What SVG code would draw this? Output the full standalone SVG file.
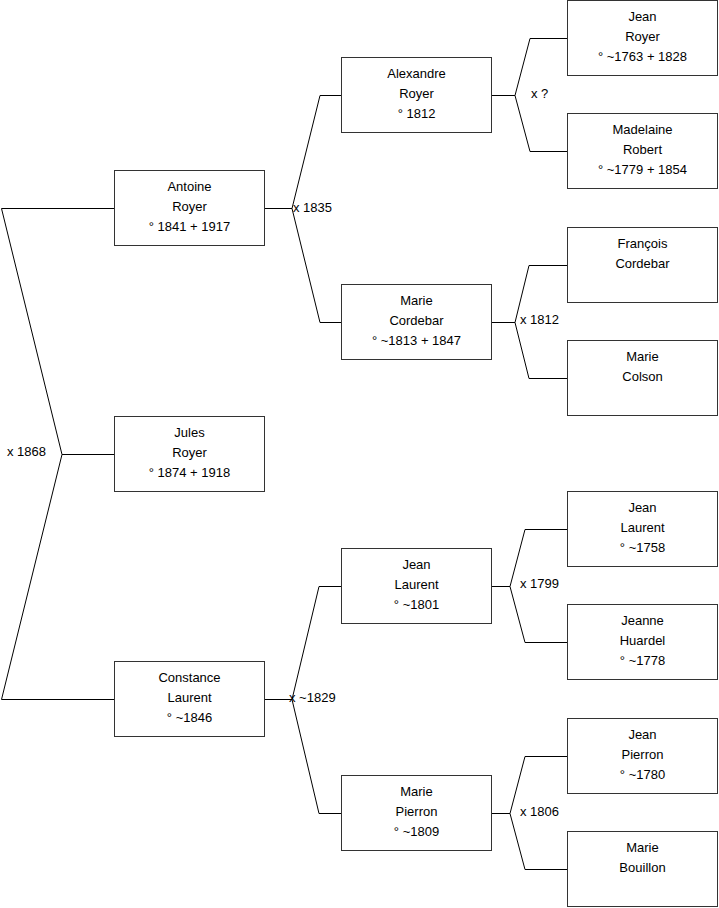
<svg xmlns="http://www.w3.org/2000/svg" width="719" height="908" viewBox="0 0 719 908">
<style>
.box{fill:#fff;stroke:#333;stroke-width:1}
.t{font-family:"Liberation Sans",Arial,sans-serif;font-size:13px;fill:#000;text-anchor:middle}
.lbl{font-family:"Liberation Sans",Arial,sans-serif;font-size:13px;fill:#000}
.c{fill:none;stroke:#000;stroke-width:1}
</style>
<rect width="719" height="908" fill="#fff"/>
<g id="connectors">
<polyline class="c" points="114,208.5 1.5,208.5 62,454.5 1.5,699.5 114,699.5"/>
<line class="c" x1="62" y1="454.5" x2="114" y2="454.5"/>
<line class="c" x1="265" y1="208.5" x2="292" y2="208.5"/>
<polyline class="c" points="341,95.5 320,95.5 292,208.5 320,322.5 341,322.5"/>
<line class="c" x1="265" y1="699.5" x2="292" y2="699.5"/>
<polyline class="c" points="341,586.5 319,586.5 292,699.5 319,813.5 341,813.5"/>
<line class="c" x1="492" y1="95.5" x2="515" y2="95.5"/>
<polyline class="c" points="567,38.5 530,38.5 515,95.5 530,151.5 567,151.5"/>
<line class="c" x1="492" y1="322.5" x2="515" y2="322.5"/>
<polyline class="c" points="567,265.5 529,265.5 515,322.5 529,378.5 567,378.5"/>
<line class="c" x1="492" y1="586.5" x2="510" y2="586.5"/>
<polyline class="c" points="567,529.5 525,529.5 510,586.5 525,642.5 567,642.5"/>
<line class="c" x1="492" y1="813.5" x2="510" y2="813.5"/>
<polyline class="c" points="567,756.5 525,756.5 510,813.5 525,869.5 567,869.5"/>
<text class="lbl" x="7" y="456">x 1868</text>
<text class="lbl" x="293" y="212">x 1835</text>
<text class="lbl" x="289" y="702">x ~1829</text>
<text class="lbl" x="531" y="98">x ?</text>
<text class="lbl" x="520" y="324">x 1812</text>
<text class="lbl" x="520" y="588">x 1799</text>
<text class="lbl" x="520" y="816">x 1806</text>
</g>
<g id="antoine"><rect class="box" x="114.5" y="170.5" width="150" height="75"/><text class="t" x="189.5" y="191">Antoine</text><text class="t" x="189.5" y="211">Royer</text><text class="t" x="189.5" y="231">° 1841 + 1917</text></g>
<g id="jules"><rect class="box" x="114.5" y="416.5" width="150" height="75"/><text class="t" x="189.5" y="437">Jules</text><text class="t" x="189.5" y="457">Royer</text><text class="t" x="189.5" y="477">° 1874 + 1918</text></g>
<g id="constance"><rect class="box" x="114.5" y="661.5" width="150" height="75"/><text class="t" x="189.5" y="682">Constance</text><text class="t" x="189.5" y="702">Laurent</text><text class="t" x="189.5" y="722">° ~1846</text></g>
<g id="alexandre"><rect class="box" x="341.5" y="57.5" width="150" height="75"/><text class="t" x="416.5" y="78">Alexandre</text><text class="t" x="416.5" y="98">Royer</text><text class="t" x="416.5" y="118">° 1812</text></g>
<g id="marie-cordebar"><rect class="box" x="341.5" y="284.5" width="150" height="75"/><text class="t" x="416.5" y="305">Marie</text><text class="t" x="416.5" y="325">Cordebar</text><text class="t" x="416.5" y="345">° ~1813 + 1847</text></g>
<g id="jean-laurent"><rect class="box" x="341.5" y="548.5" width="150" height="75"/><text class="t" x="416.5" y="569">Jean</text><text class="t" x="416.5" y="589">Laurent</text><text class="t" x="416.5" y="609">° ~1801</text></g>
<g id="marie-pierron"><rect class="box" x="341.5" y="775.5" width="150" height="75"/><text class="t" x="416.5" y="796">Marie</text><text class="t" x="416.5" y="816">Pierron</text><text class="t" x="416.5" y="836">° ~1809</text></g>
<g id="jean-royer"><rect class="box" x="567.5" y="0.5" width="150" height="75"/><text class="t" x="642.5" y="21">Jean</text><text class="t" x="642.5" y="41">Royer</text><text class="t" x="642.5" y="61">° ~1763 + 1828</text></g>
<g id="madelaine-robert"><rect class="box" x="567.5" y="113.5" width="150" height="75"/><text class="t" x="642.5" y="134">Madelaine</text><text class="t" x="642.5" y="154">Robert</text><text class="t" x="642.5" y="174">° ~1779 + 1854</text></g>
<g id="francois-cordebar"><rect class="box" x="567.5" y="227.5" width="150" height="75"/><text class="t" x="642.5" y="248">François</text><text class="t" x="642.5" y="268">Cordebar</text></g>
<g id="marie-colson"><rect class="box" x="567.5" y="340.5" width="150" height="75"/><text class="t" x="642.5" y="361">Marie</text><text class="t" x="642.5" y="381">Colson</text></g>
<g id="jean-laurent-sr"><rect class="box" x="567.5" y="491.5" width="150" height="75"/><text class="t" x="642.5" y="512">Jean</text><text class="t" x="642.5" y="532">Laurent</text><text class="t" x="642.5" y="552">° ~1758</text></g>
<g id="jeanne-huardel"><rect class="box" x="567.5" y="604.5" width="150" height="75"/><text class="t" x="642.5" y="625">Jeanne</text><text class="t" x="642.5" y="645">Huardel</text><text class="t" x="642.5" y="665">° ~1778</text></g>
<g id="jean-pierron"><rect class="box" x="567.5" y="718.5" width="150" height="75"/><text class="t" x="642.5" y="739">Jean</text><text class="t" x="642.5" y="759">Pierron</text><text class="t" x="642.5" y="779">° ~1780</text></g>
<g id="marie-bouillon"><rect class="box" x="567.5" y="831.5" width="150" height="75"/><text class="t" x="642.5" y="852">Marie</text><text class="t" x="642.5" y="872">Bouillon</text></g>
</svg>
